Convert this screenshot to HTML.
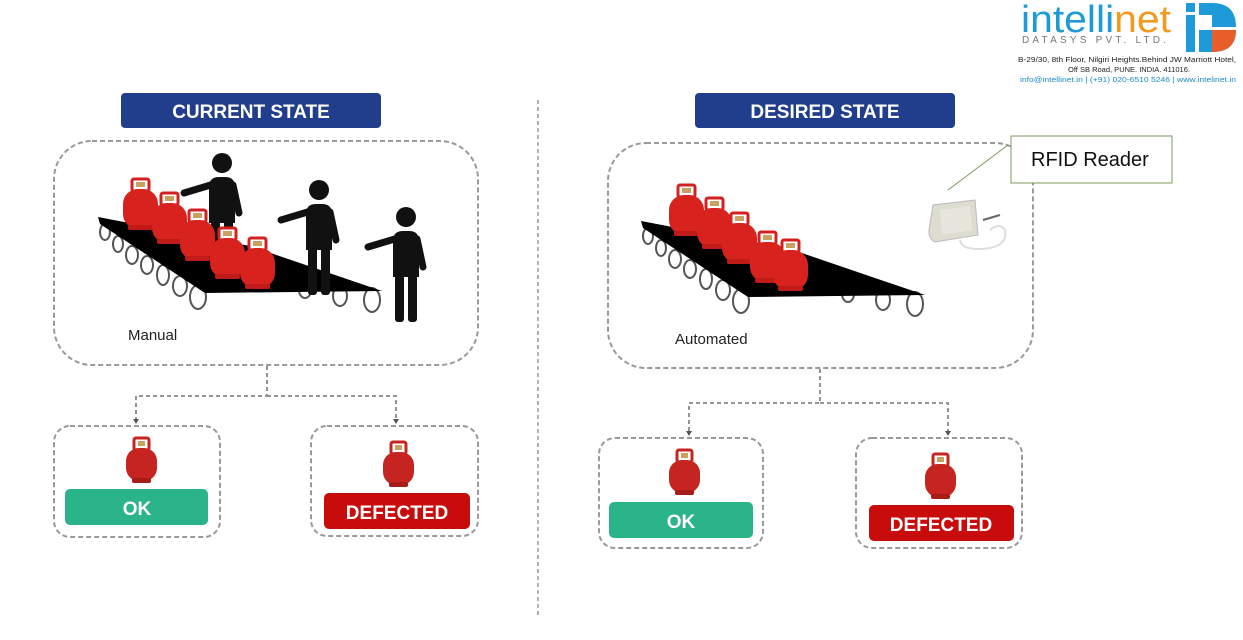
<!DOCTYPE html>
<html><head><meta charset="utf-8"><style>
html,body{margin:0;padding:0;background:#fff;}
svg{display:block;}
text{font-family:"Liberation Sans",sans-serif;}
</style></head><body>
<svg width="1243" height="640" viewBox="0 0 1243 640" xmlns="http://www.w3.org/2000/svg">
<defs>
<g id="cyl">
  <rect x="9" y="0" width="17" height="12" rx="2" fill="#fff" stroke="#d42020" stroke-width="3"/>
  <rect x="13" y="3" width="9" height="5" fill="#c8a060"/>
  <rect x="0" y="10" width="35" height="40" rx="15" fill="#d8221e"/>
  <rect x="5" y="46" width="25" height="5" rx="2" fill="#c01b18"/>
</g>
<g id="cyl2">
  <rect x="8" y="0" width="15" height="12" rx="2" fill="#fff" stroke="#c42520" stroke-width="3"/>
  <rect x="12" y="3" width="7" height="5" fill="#c8a060"/>
  <rect x="0" y="10" width="31" height="33" rx="13" fill="#c62420"/>
  <rect x="6" y="40" width="19" height="5" rx="2" fill="#a81c18"/>
</g>
<g id="person" fill="#111" stroke="#111">
  <circle cx="0" cy="0" r="10" stroke="none"/>
  <path d="M-13 24 Q-13 14 -3 14 L3 14 Q13 14 13 24 L13 60 L-13 60 Z" stroke="none"/>
  <line x1="-8" y1="21" x2="-38" y2="30" stroke-width="7" stroke-linecap="round"/>
  <line x1="11" y1="22" x2="17" y2="50" stroke-width="7" stroke-linecap="round"/>
  <rect x="-11" y="55" width="9" height="50" rx="3" stroke="none"/>
  <rect x="2" y="55" width="9" height="50" rx="3" stroke="none"/>
</g>
<g id="belt">
  <g fill="#fff" stroke="#555" stroke-width="2">
    <ellipse cx="105" cy="232" rx="5" ry="8"/><ellipse cx="118" cy="244" rx="5" ry="8"/>
    <ellipse cx="132" cy="255" rx="6" ry="9"/><ellipse cx="147" cy="265" rx="6" ry="9"/>
    <ellipse cx="163" cy="275" rx="6" ry="10"/><ellipse cx="180" cy="286" rx="7" ry="10"/>
    <ellipse cx="198" cy="297" rx="8" ry="12"/><ellipse cx="305" cy="290" rx="6" ry="8"/>
    <ellipse cx="340" cy="296" rx="7" ry="10"/><ellipse cx="372" cy="300" rx="8" ry="12"/>
  </g>
  <polygon points="98,217 250,246 382,291 205,293 100,224" fill="#000"/>
</g>
</defs>

<!-- Logo -->
<text x="1021" y="32" font-size="38" fill="#1e9ad8" textLength="150" lengthAdjust="spacingAndGlyphs">intelli<tspan fill="#f39a1e">net</tspan></text>
<text x="1022" y="43" font-size="10" fill="#777" letter-spacing="3.2">DATASYS PVT. LTD.</text>
<rect x="1186" y="3" width="9" height="9" fill="#1e9ad8"/>
<rect x="1186" y="15" width="9" height="37" fill="#1e9ad8"/>
<path d="M1199 3 L1212 3 Q1236 3 1236 27 L1212 27 L1212 15 L1199 15 Z" fill="#1e9ad8"/>
<path d="M1199 30 L1236 30 Q1236 52 1212 52 L1199 52 Z" fill="#1e9ad8"/>
<path d="M1212 30 L1236 30 Q1236 52 1212 52 Z" fill="#e85d2a"/>
<text x="1018" y="62" font-size="7.5" fill="#222" textLength="218" lengthAdjust="spacingAndGlyphs">B-29/30, 8th Floor, Nilgiri Heights.Behind JW Marriott Hotel,</text>
<text x="1068" y="72" font-size="7.5" fill="#222" textLength="122" lengthAdjust="spacingAndGlyphs">Off SB Road, PUNE. INDIA. 411016.</text>
<text x="1020" y="82" font-size="7.5" fill="#1e8ac8" textLength="216" lengthAdjust="spacingAndGlyphs">info@intellinet.in | (+91) 020-6510 5246 | www.intelinet.in</text>

<!-- separator -->
<line x1="538" y1="100" x2="538" y2="618" stroke="#999" stroke-width="1.5" stroke-dasharray="4,3"/>

<!-- LEFT -->
<rect x="121" y="93" width="260" height="35" rx="4" fill="#213e8c"/>
<text x="251" y="118" font-size="19" font-weight="bold" fill="#fff" text-anchor="middle">CURRENT STATE</text>
<rect x="54" y="141" width="424" height="224" rx="38" fill="none" stroke="#999" stroke-width="2" stroke-dasharray="5,3"/>
<use href="#belt"/>
<use href="#cyl" x="123" y="179"/>
<use href="#cyl" x="152" y="193"/>
<use href="#person" x="222" y="163"/>
<use href="#cyl" x="180" y="210"/>
<use href="#cyl" x="210" y="228"/>
<use href="#cyl" x="240" y="238"/>
<use href="#person" x="319" y="190"/>
<use href="#person" x="406" y="217"/>
<text x="128" y="340" font-size="15" fill="#222">Manual</text>

<path d="M267 366 V396 H136 V420 M267 396 H396 V420" fill="none" stroke="#888" stroke-width="1.8" stroke-dasharray="4,3"/>
<path d="M133 419 L139 419 L136 424Z M393 419 L399 419 L396 424Z" fill="#555"/>
<rect x="54" y="426" width="166" height="111" rx="16" fill="none" stroke="#999" stroke-width="2" stroke-dasharray="5,3"/>
<use href="#cyl2" x="126" y="438"/>
<rect x="65" y="489" width="143" height="36" rx="5" fill="#2bb38a"/>
<text x="137" y="515" font-size="19" font-weight="bold" fill="#fff" text-anchor="middle">OK</text>
<rect x="311" y="426" width="167" height="110" rx="16" fill="none" stroke="#999" stroke-width="2" stroke-dasharray="5,3"/>
<use href="#cyl2" x="383" y="442"/>
<rect x="324" y="493" width="146" height="36" rx="5" fill="#c80c0c"/>
<text x="397" y="519" font-size="19" font-weight="bold" fill="#fff" text-anchor="middle">DEFECTED</text>

<!-- RIGHT -->
<rect x="695" y="93" width="260" height="35" rx="4" fill="#213e8c"/>
<text x="825" y="118" font-size="19" font-weight="bold" fill="#fff" text-anchor="middle">DESIRED STATE</text>
<rect x="608" y="143" width="425" height="225" rx="38" fill="none" stroke="#999" stroke-width="2" stroke-dasharray="5,3"/>
<use href="#belt" x="543" y="4"/>
<use href="#cyl" x="669" y="185"/>
<use href="#cyl" x="697" y="198"/>
<use href="#cyl" x="722" y="213"/>
<use href="#cyl" x="750" y="232"/>
<use href="#cyl" x="773" y="240"/>
<text x="675" y="344" font-size="15" fill="#222">Automated</text>

<!-- RFID device -->
<path d="M933 205 L975 200 L978 235 L935 242 Q928 238 929 230 Z" fill="#dcdcd0" stroke="#bbb"/>
<path d="M940 210 L970 206 L972 230 L942 235 Z" fill="#e6e6dc"/>
<path d="M960 240 Q962 252 990 248 Q1008 244 1005 230 Q1000 222 990 230" fill="none" stroke="#ddd" stroke-width="2"/>
<path d="M983 220 L1000 215" stroke="#666" stroke-width="2"/>
<line x1="1008" y1="145" x2="948" y2="190" stroke="#7a9a5a" stroke-width="1"/>
<rect x="1011" y="136" width="161" height="47" fill="#fff" stroke="#7a9a5a" stroke-width="1"/>
<text x="1031" y="166" font-size="20" fill="#111">RFID Reader</text>

<path d="M820 369 V403 H689 V432 M820 403 H948 V432" fill="none" stroke="#888" stroke-width="1.8" stroke-dasharray="4,3"/>
<path d="M686 431 L692 431 L689 436Z M945 431 L951 431 L948 436Z" fill="#555"/>
<rect x="599" y="438" width="164" height="110" rx="16" fill="none" stroke="#999" stroke-width="2" stroke-dasharray="5,3"/>
<use href="#cyl2" x="669" y="450"/>
<rect x="609" y="502" width="144" height="36" rx="5" fill="#2bb38a"/>
<text x="681" y="528" font-size="19" font-weight="bold" fill="#fff" text-anchor="middle">OK</text>
<rect x="856" y="438" width="166" height="110" rx="16" fill="none" stroke="#999" stroke-width="2" stroke-dasharray="5,3"/>
<use href="#cyl2" x="925" y="454"/>
<rect x="869" y="505" width="145" height="36" rx="5" fill="#c80c0c"/>
<text x="941" y="531" font-size="19" font-weight="bold" fill="#fff" text-anchor="middle">DEFECTED</text>
</svg>
</body></html>
